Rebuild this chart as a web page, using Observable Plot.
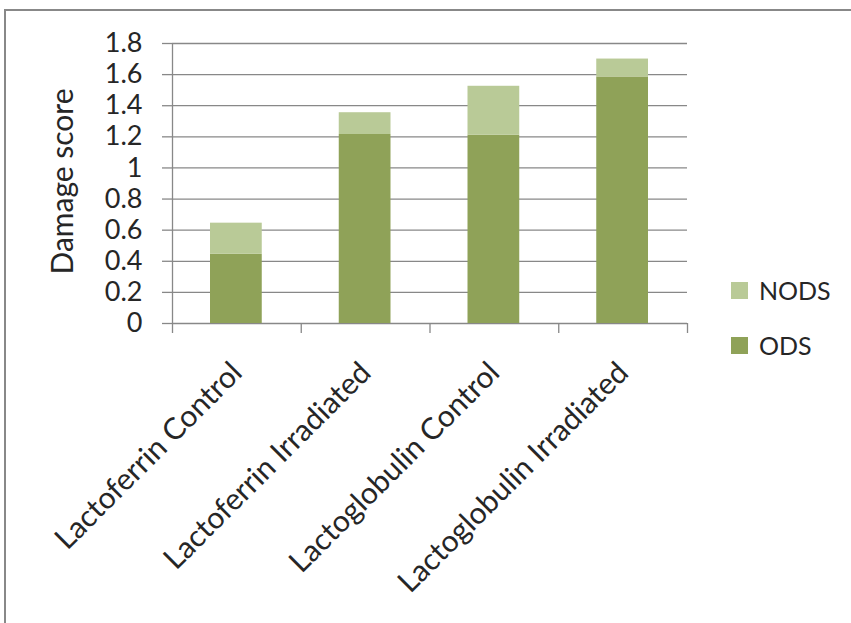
<!DOCTYPE html>
<html>
<head>
<meta charset="utf-8">
<script src="https://cdn.jsdelivr.net/npm/d3@7"></script>
<script src="https://cdn.jsdelivr.net/npm/@observablehq/plot@0.6"></script>
<style>
  html, body { margin: 0; padding: 0; background: #fff; }
  #wrap { position: relative; width: 851px; height: 623px; overflow: hidden; font-family: Lato, "Open Sans", sans-serif; color: #262626; }
  #border { position: absolute; left: 4px; top: 9px; width: 900px; height: 700px; border-top: 2px solid #888; border-left: 2px solid #888; }
  #chart { position: absolute; left: 0; top: 0; }
  .leg { position: absolute; left: 731px; display: flex; align-items: center; font-size: 25px; }
  .leg span.sw { display: inline-block; width: 17px; height: 17px; margin-right: 11px; }
</style>
</head>
<body>
<div id="wrap">
  <div id="border"></div>
  <div id="chart"></div>
  <div class="leg" style="top:275px"><span class="sw" style="background:#b9ca97"></span>NODS</div>
  <div class="leg" style="top:330px"><span class="sw" style="background:#8fa258"></span>ODS</div>
</div>
<script>
const categories = ["Lactoferrin Control", "Lactoferrin Irradiated", "Lactoglobulin Control", "Lactoglobulin Irradiated"];
const ODS = [0.445, 1.215, 1.21, 1.585];
const NODS = [0.2, 0.14, 0.315, 0.115];
const yTicks = [0, 0.2, 0.4, 0.6, 0.8, 1, 1.2, 1.4, 1.6, 1.8];
const yTitle = "Damage score";
const colODS = "#8fa258", colNODS = "#b9ca97";

const rows = [];
categories.forEach((c, i) => {
  rows.push({i, cat: c, series: "ODS", y1: 0, y2: ODS[i]});
  rows.push({i, cat: c, series: "NODS", y1: ODS[i], y2: ODS[i] + NODS[i]});
});
const boundaries = d3.range(categories.length + 1);

const plot = Plot.plot({
  width: 851,
  height: 623,
  marginLeft: 172,
  marginRight: 164,
  marginTop: 43,
  marginBottom: 300,
  style: {fontFamily: "Lato, 'Open Sans', sans-serif", color: "#262626", background: "transparent"},
  x: {type: "linear", domain: [0, categories.length]},
  y: {domain: [0, 1.8]},
  marks: [
    Plot.gridY(yTicks, {stroke: "#888", strokeOpacity: 1, strokeWidth: 1.3}),
    Plot.rect(rows, {x1: "i", x2: d => d.i + 1, y1: "y1", y2: "y2", fill: d => d.series === "ODS" ? colODS : colNODS, insetLeft: 38, insetRight: 39}),
    Plot.axisY(yTicks, {tickSize: 10, tickPadding: 20, fontSize: 27, stroke: "#888", strokeWidth: 1.3, tickFormat: d => String(d), label: null, fill: "#262626"}),
    Plot.axisX(boundaries, {tickSize: 10, tickFormat: () => "", stroke: "#888", strokeWidth: 1.3, label: null}),
    Plot.ruleX([0], {y1: 0, y2: 1.8, stroke: "#888", strokeWidth: 1.3}),
    Plot.text(categories, {x: (d, i) => i + 0.5, y: () => 0, text: d => d, rotate: -45, textAnchor: "end", lineAnchor: "bottom", dx: 7, dy: 51, fontSize: 30, fill: "#262626"}),
    Plot.text([yTitle], {frameAnchor: "left", text: d => d, rotate: -90, textAnchor: "middle", lineAnchor: "middle", dx: -109, dy: -2, fontSize: 30, fill: "#262626"})
  ]
});
document.getElementById("chart").appendChild(plot);
</script>
</body>
</html>
